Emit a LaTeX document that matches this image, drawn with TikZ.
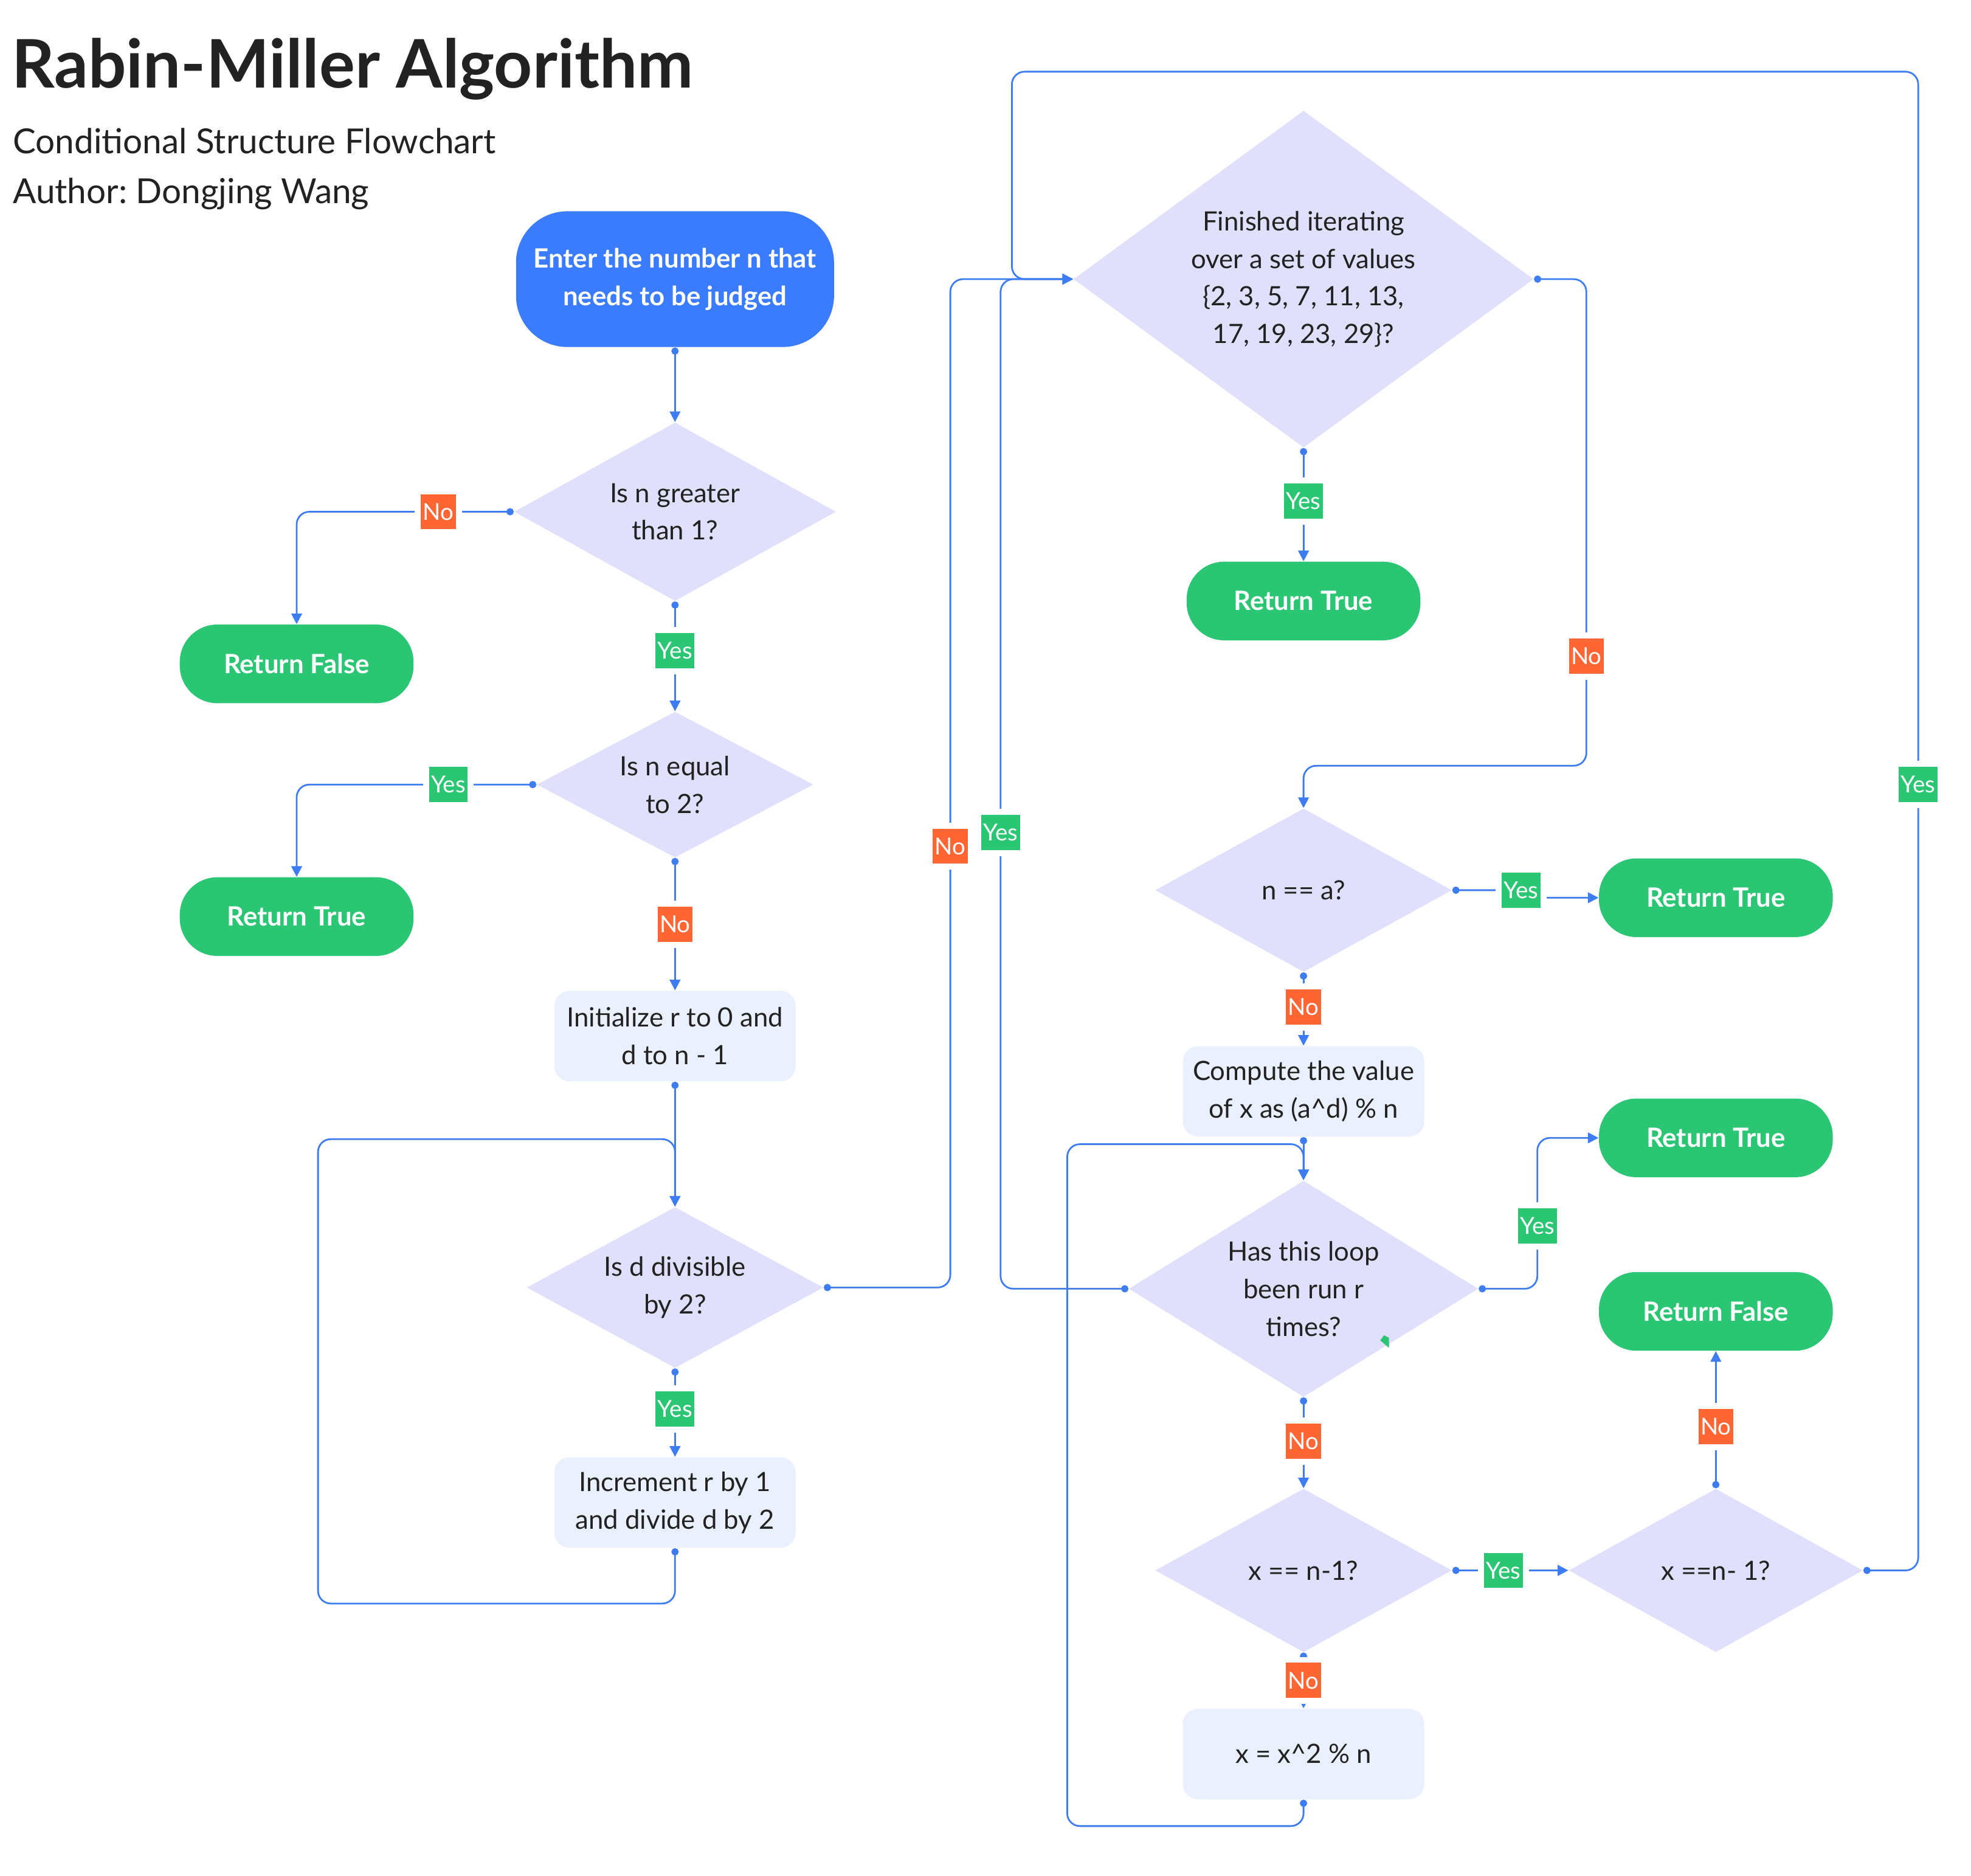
\documentclass[tikz,border=0pt]{standalone}
\usepackage{fontspec}
\setmainfont{Lato}
\usetikzlibrary{positioning, shapes.geometric, arrows.meta}

\definecolor{entryblue}{HTML}{3B7CFF}
\definecolor{retgreen}{HTML}{2AC674}
\definecolor{tagorange}{HTML}{FF6633}
\definecolor{askpurple}{HTML}{E1E0FC}
\definecolor{stepblue}{HTML}{EAF0FD}
\definecolor{linkblue}{HTML}{3D7CF2}
\definecolor{inkgray}{HTML}{222222}

\newcommand{\bodysize}{\fontsize{12.5}{17.7}\selectfont}
\newcommand{\tagsize}{\fontsize{11}{13}\selectfont}
\frenchspacing

\begin{document}
\begin{tikzpicture}[
  x=0.020782cm, y=-0.020782cm,
  every node/.style={font=\bodysize, text=inkgray},
  entrybox/.style={fill=entryblue, rounded corners=0.85cm, minimum width=5.258cm, minimum height=2.244cm, align=center, text=white, font=\bodysize\bfseries},
  retbox/.style={fill=retgreen, rounded corners=0.62cm, minimum width=3.865cm, minimum height=1.3cm, text=white, font=\bodysize\bfseries},
  stepbox/.style={fill=stepblue, rounded corners=0.25cm, minimum width=3.99cm, minimum height=1.496cm, align=center},
  ask/.style 2 args={diamond, shape aspect=1.6, fill=askpurple, inner sep=0pt, align=center, minimum width=#1, minimum height=#2},
  tag/.style={fill=#1, sharp corners, text=white, font=\tagsize, inner xsep=1pt, inner ysep=0pt, minimum height=0.582cm, preaction={draw=white, line width=0.2cm}},
  link/.style={draw=linkblue, line width=0.8pt, rounded corners=0.21cm, {Circle[length=3.4pt]}-{Triangle[length=5pt, width=5pt]}}
]
\path[use as bounding box, fill=white] (0,0) rectangle (1568,1492);

% Heading
\node[anchor=base west, inner sep=0pt, font=\fontsize{31.5}{36}\selectfont\bfseries] (title) at (9,70) {Rabin-Miller Algorithm};
\node[anchor=base west, inner sep=0pt, font=\fontsize{16.2}{20}\selectfont] (subtitle) at (10,122) {Conditional Structure Flowchart};
\node[anchor=base west, inner sep=0pt, font=\fontsize{16.2}{20}\selectfont] (author) at (10,162) {Author: Dongjing Wang};

% Left column: input and decomposition of n - 1
\node[entrybox] (entry) at (537,222) {Enter the number n that\\needs to be judged};
\node[ask={5.32cm}{2.951cm}] (gt1) at (537,407) {Is n greater\\than 1?};
\node[retbox] (false1) at (236,528) {Return False};
\node[ask={4.572cm}{2.411cm}] (eq2) at (537,624) {Is n equal\\to 2?};
\node[retbox] (true1) at (236,729) {Return True};
\node[stepbox] (init) at (537,824) {Initialize r to 0 and\\d to n - 1};
\node[ask={4.905cm}{2.66cm}] (even) at (537,1024) {Is d divisible\\by 2?};
\node[stepbox] (halve) at (537,1195) {Increment r by 1\\and divide d by 2};

% Right part: witness loop
\node[ask={7.606cm}{5.57cm}] (bases) at (1037,222) {Finished iterating\\over a set of values\\\{2, 3, 5, 7, 11, 13,\\17, 19, 23, 29\}?};
\node[retbox] (true2) at (1037,478) {Return True};
\node[ask={4.905cm}{2.702cm}] (isbase) at (1037,708) {n == a?};
\node[retbox] (true3) at (1365,714) {Return True};
\node[stepbox] (power) at (1037,868) {Compute the value\\of x as (a\textasciicircum d) \% n};
\node[ask={5.777cm}{3.575cm}] (rounds) at (1037,1025) {Has this loop\\been run r\\times?};
\node[retbox] (true4) at (1365,905) {Return True};
\node[retbox] (false2) at (1365,1043) {Return False};
\node[ask={4.905cm}{2.702cm}] (last1) at (1037,1249) {x == n-1?};
\node[ask={4.863cm}{2.702cm}] (last2) at (1365,1249) {x ==n- 1?};
\node[stepbox] (square) at (1037,1395) {x = x\textasciicircum 2 \% n};
\fill[retgreen] (1098,1066) -- (1101,1062) -- (1105,1064) -- (1105,1072) -- cycle;

% Connectors, left column
\draw[link] (entry.south) -- (gt1.north);
\draw[link] (gt1.west) -- ++(-60,0) node[tag=tagorange] (no1) {No} -| (false1.north);
\draw[link] (gt1.south) -- node[tag=retgreen, pos=0.45] (yes1) {Yes} (eq2.north);
\draw[link] (eq2.west) -- ++(-70,0) node[tag=retgreen] (yes2) {Yes} -| (true1.north);
\draw[link] (eq2.south) -- node[tag=tagorange, pos=0.5] (no2) {No} (init.north);
\draw[link] (init.south) -- (even.north);
\draw[link] (even.south) -- node[tag=retgreen, pos=0.46] (yes3) {Yes} (halve.north);
\draw[link] (halve.south) -- ++(0,44) -| (253,906) -| (even.north);
\draw[link] (even.east) -| (756,673) node[tag=tagorange] (no3) {No} |- (bases.west);

% Connectors, right part
\draw[link] (bases.south) -- node[tag=retgreen, pos=0.47] (yes4) {Yes} (true2.north);
\draw[link] (bases.east) -| (1262,522) node[tag=tagorange] (no4) {No} -- (1262,609) -| (isbase.north);
\draw[link] (isbase.east) -- (1210,708) node[tag=retgreen] (yes6) {Yes} -- (1210,714) -- (true3.west);
\draw[link] (isbase.south) -- node[tag=tagorange, pos=0.47] (no5) {No} (power.north);
\draw[link] (power.south) -- (rounds.north);
\draw[link] (square.south) -- ++(0,21) -| (849,910) -| (rounds.north);
\draw[link] (rounds.west) -| (796,662) node[tag=retgreen] (yes5) {Yes} |- (bases.west);
\draw[link] (rounds.east) -| (1223,975) node[tag=retgreen] (yes7) {Yes} |- (true4.west);
\draw[link] (rounds.south) -- node[tag=tagorange, pos=0.48] (no6) {No} (last1.north);
\draw[link] (last1.east) -- node[tag=retgreen, pos=0.44] (yes8) {Yes} (last2.west);
\draw[link] (last2.north) -- node[tag=tagorange, pos=0.45] (no7) {No} (false2.south);
\draw[link] (last1.south) -- node[tag=tagorange, pos=0.5] (no8) {No} (square.north);
\draw[link] (last2.east) -| (1526,624) node[tag=retgreen] (yes9) {Yes} |- (805,57) |- (bases.west);
\end{tikzpicture}
\end{document}
